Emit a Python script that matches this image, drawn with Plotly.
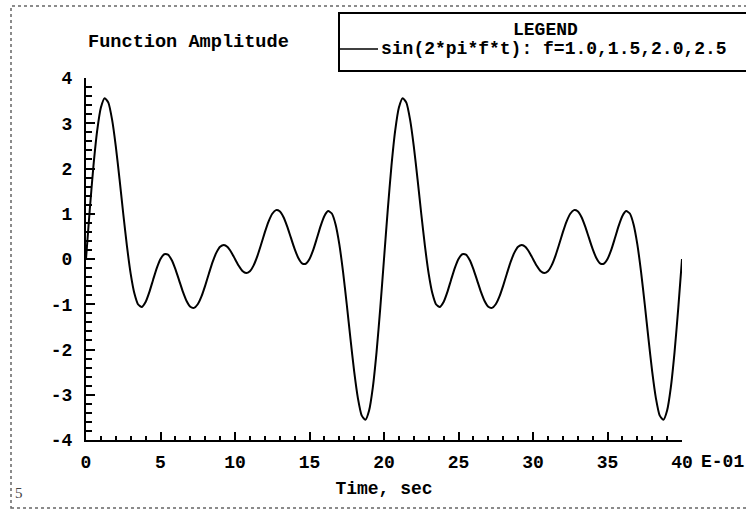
import plotly.graph_objects as go

# ---------------- data ----------------
FREQUENCIES = [1.0, 1.5, 2.0, 2.5]          # Hz, as given in the legend
TIME_START = 0.0                             # in units of E-01 sec
TIME_STEP = 0.25                             # in units of E-01 sec
AMPLITUDE = [
    0.0, 1.0815, 2.0579, 2.8363, 3.3479, 3.5549, 3.4549, 3.0796, 2.4900, 1.7666,
    1.0, 0.2773, -0.3277, -0.7634, -1.0056, -1.0583, -0.9511, -0.7327, -0.4627, -0.2011,
    0.0, 0.1041, 0.0949, -0.0227, -0.2245, -0.4725, -0.7214, -0.9274, -1.0543, -1.0801,
    -1.0, -0.8268, -0.5878, -0.3204, -0.0653, 0.1407, 0.2701, 0.3103, 0.2643, 0.1507,
    0.0,
    -0.1507, -0.2643, -0.3103, -0.2701, -0.1407, 0.0653, 0.3204, 0.5878, 0.8268, 1.0,
    1.0801, 1.0543, 0.9274, 0.7214, 0.4725, 0.2245, 0.0227, -0.0949, -0.1041, 0.0,
    0.2011, 0.4627, 0.7327, 0.9511, 1.0583, 1.0056, 0.7634, 0.3277, -0.2773, -1.0,
    -1.7666, -2.4900, -3.0796, -3.4549, -3.5549, -3.3479, -2.8363, -2.0579, -1.0815, 0.0,
    1.0815, 2.0579, 2.8363, 3.3479, 3.5549, 3.4549, 3.0796, 2.4900, 1.7666,
    1.0, 0.2773, -0.3277, -0.7634, -1.0056, -1.0583, -0.9511, -0.7327, -0.4627, -0.2011,
    0.0, 0.1041, 0.0949, -0.0227, -0.2245, -0.4725, -0.7214, -0.9274, -1.0543, -1.0801,
    -1.0, -0.8268, -0.5878, -0.3204, -0.0653, 0.1407, 0.2701, 0.3103, 0.2643, 0.1507,
    0.0,
    -0.1507, -0.2643, -0.3103, -0.2701, -0.1407, 0.0653, 0.3204, 0.5878, 0.8268, 1.0,
    1.0801, 1.0543, 0.9274, 0.7214, 0.4725, 0.2245, 0.0227, -0.0949, -0.1041, 0.0,
    0.2011, 0.4627, 0.7327, 0.9511, 1.0583, 1.0056, 0.7634, 0.3277, -0.2773, -1.0,
    -1.7666, -2.4900, -3.0796, -3.4549, -3.5549, -3.3479, -2.8363, -2.0579, -1.0815, 0.0,
]
X_TICK_VALUES = [0, 5, 10, 15, 20, 25, 30, 35, 40]
X_TICK_LABELS = ["0", "5", "10", "15", "20", "25", "30", "35", "40"]
Y_TICK_VALUES = [-4, -3, -2, -1, 0, 1, 2, 3, 4]
Y_TICK_LABELS = ["-4", "-3", "-2", "-1", "0", "1", "2", "3", "4"]
LEGEND_TITLE = "LEGEND"
SERIES_NAME = "sin(2*pi*f*t): f=" + ",".join(f"{f:.1f}" for f in FREQUENCIES)
TITLE = "Function Amplitude"
X_TITLE = "Time, sec"
X_EXPONENT = "E-01"
PAGE_NUMBER = "5"

# ---------------- layout geometry ----------------
W, H = 746, 510
L, R, T, B = 86, 64, 78, 70
PW, PH = W - L - R, H - T - B


def px(x):
    return (x - L) / PW


def py(y):
    return (H - B - y) / PH


FONT = "Liberation Mono"
BOLD = dict(family=FONT, size=18, color="black", weight="bold")
BOLD_BIG = dict(family=FONT, size=18.6, color="black", weight="bold")

fig = go.Figure()
fig.add_trace(go.Scatter(
    y=AMPLITUDE, x0=TIME_START, dx=TIME_STEP, mode="lines",
    line=dict(color="black", width=2, shape="spline", smoothing=0.6),
    name=SERIES_NAME, showlegend=False, hoverinfo="skip",
))

axis_common = dict(
    showgrid=False, zeroline=False, showline=True, linecolor="black", linewidth=2,
    ticks="inside", tickcolor="black", tickwidth=2, mirror=False,
    tickfont=BOLD, tickmode="array",
)

fig.update_xaxes(
    range=[0, 40], tickvals=X_TICK_VALUES, ticktext=X_TICK_LABELS, ticklen=8,
    minor=dict(dtick=1, ticks="inside", ticklen=4, tickwidth=2, tickcolor="black", showgrid=False),
    ticklabelstandoff=4,
    title=dict(text=X_TITLE, font=BOLD, standoff=10),
    **axis_common,
)
fig.update_yaxes(
    range=[-4, 4], tickvals=Y_TICK_VALUES, ticktext=Y_TICK_LABELS, ticklen=9,
    minor=dict(dtick=0.2, ticks="inside", ticklen=6, tickwidth=2, tickcolor="black", showgrid=False),
    ticklabelstandoff=8,
    **axis_common,
)

annotations = [
    dict(text=TITLE, x=px(86), y=py(42), xanchor="left", yanchor="middle", font=BOLD_BIG),
    dict(text=X_EXPONENT, x=px(699), y=py(462), xanchor="left", yanchor="middle", font=BOLD),
    dict(text=PAGE_NUMBER, x=px(13), y=py(493), xanchor="left", yanchor="middle",
         font=dict(family="Liberation Serif", size=15, color="#444")),
    dict(text=LEGEND_TITLE, x=px(545), y=py(30), xanchor="center", yanchor="middle", font=BOLD),
    dict(text=SERIES_NAME, x=px(379), y=py(49), xanchor="left", yanchor="middle", font=BOLD),
]
for a in annotations:
    a.update(xref="paper", yref="paper", showarrow=False)

shapes = [
    dict(type="rect", x0=px(11), x1=px(770), y0=py(508), y1=py(6),
         line=dict(color="#666", width=1.5, dash="dot")),
    dict(type="rect", x0=px(339), x1=px(770), y0=py(71), y1=py(13),
         line=dict(color="black", width=2), fillcolor="white"),
    dict(type="line", x0=px(339), x1=px(378), y0=py(49), y1=py(49),
         line=dict(color="black", width=1.5)),
]
for s in shapes:
    s.update(xref="paper", yref="paper")

fig.update_layout(
    width=W, height=H, margin=dict(l=L, r=R, t=T, b=B, autoexpand=False),
    paper_bgcolor="white", plot_bgcolor="white",
    annotations=annotations, shapes=shapes, showlegend=False,
)

fig.write_html("out.html")
